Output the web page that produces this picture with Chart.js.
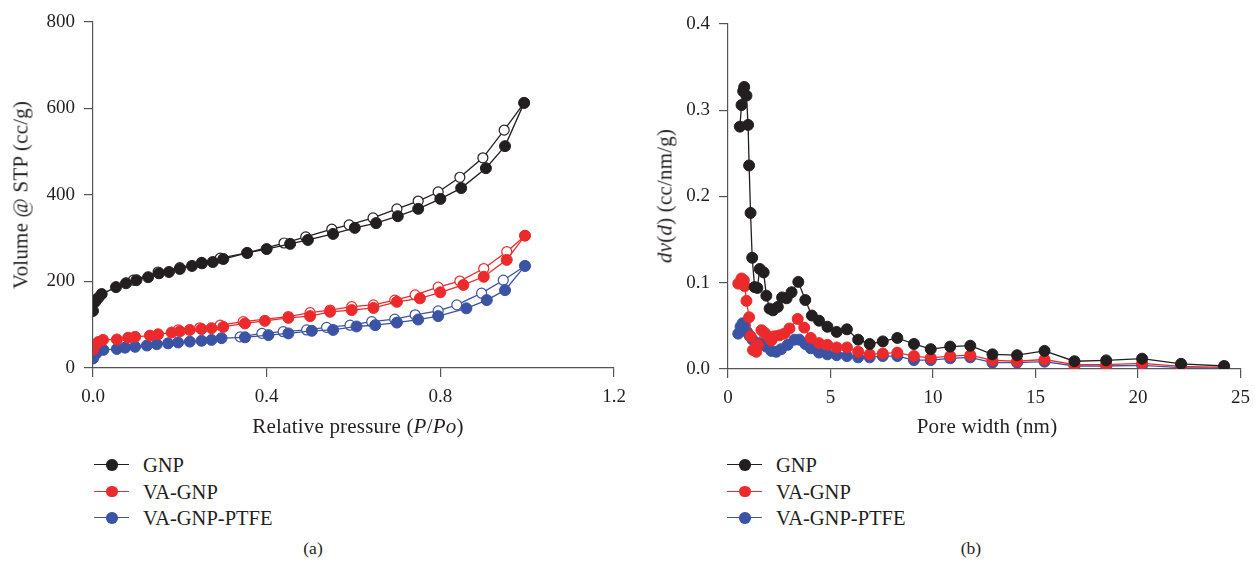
<!DOCTYPE html>
<html>
<head>
<meta charset="utf-8">
<script src="https://cdn.jsdelivr.net/npm/chart.js@4.4.1/dist/chart.umd.min.js"></script>
<style>
  html, body { margin: 0; padding: 0; background: #fff; }
  body { width: 1259px; height: 564px; position: relative; overflow: hidden;
         font-family: "Liberation Serif", "DejaVu Serif", serif; color: #231f20; }
  canvas { position: absolute; top: 0; }
  .txt { position: absolute; white-space: nowrap; font-size: 21px; line-height: 1; letter-spacing: 0.2px; }
  .ytitle { position: absolute; white-space: nowrap; font-size: 21px; line-height: 1; letter-spacing: 0.2px;
            transform: translate(-50%, -50%) rotate(-90deg); }
  .xtitle { transform: translate(-50%, -50%); }
  .cap { position: absolute; white-space: nowrap; font-size: 17.5px; line-height: 1; transform: translate(-50%, -50%); }
  .leg { position: absolute; font-size: 20.5px; line-height: 1; }
  .leg .row { position: absolute; left: 0; height: 22px; white-space: nowrap; }
  .leg .ln { position: absolute; left: 0; top: 10px; width: 35px; height: 1.4px; }
  .leg .dot { position: absolute; left: 12px; top: 5px; width: 11.5px; height: 11.5px; border-radius: 50%; }
  .leg .lab { position: absolute; left: 49px; top: 1px; }
</style>
</head>
<body>
<canvas id="c1" width="640" height="420" style="left:0;width:640px;height:420px"></canvas>
<canvas id="c2" width="619" height="420" style="left:640px;width:619px;height:420px"></canvas>

<div class="ytitle" style="left:21px;top:195px">Volume @ STP (cc/g)</div>
<div class="txt xtitle" style="left:358px;top:426px">Relative pressure (<i>P</i>/<i>Po</i>)</div>
<div class="ytitle" style="left:665px;top:196px"><i>dv</i>(<i>d</i>) (cc/nm/g)</div>
<div class="txt xtitle" style="left:987px;top:426px">Pore width (nm)</div>

<div class="leg" id="leg1" style="left:94px;top:454px"></div>
<div class="leg" id="leg2" style="left:727px;top:454px"></div>

<div class="cap" style="left:313px;top:549px">(a)</div>
<div class="cap" style="left:971px;top:549px">(b)</div>

<script>
// ---------- Data: (a) N2 isotherms ----------
const seriesNames = ["GNP", "VA-GNP", "VA-GNP-PTFE"];
const seriesColors = ["#231f20", "#ec2a2c", "#3a53a4"];

const gnpAdsP = [0.0, 0.005, 0.012, 0.02, 0.053, 0.076, 0.10, 0.127, 0.152, 0.175, 0.2, 0.228, 0.251, 0.276, 0.3, 0.355, 0.4, 0.454, 0.495, 0.553, 0.603, 0.652, 0.702, 0.749, 0.8, 0.848, 0.905, 0.949, 0.993];
const gnpAdsV = [132, 153, 162, 171, 187, 196, 203, 210, 219, 222, 229, 236, 242, 245, 252, 266, 275, 287, 296, 310, 324, 335, 351, 368, 391, 416, 462, 513, 613];
const gnpDesP = [0.993, 0.947, 0.898, 0.845, 0.795, 0.749, 0.70, 0.645, 0.59, 0.55, 0.49, 0.44, 0.355, 0.293, 0.25, 0.2, 0.15, 0.093];
const gnpDesV = [613, 550, 486, 441, 407, 386, 368, 347, 331, 321, 303, 289, 266, 254, 244, 232, 222, 203];

const vaAdsP = [0.0, 0.005, 0.012, 0.023, 0.055, 0.081, 0.097, 0.131, 0.15, 0.181, 0.2, 0.223, 0.25, 0.273, 0.3, 0.35, 0.396, 0.45, 0.5, 0.546, 0.596, 0.646, 0.7, 0.753, 0.8, 0.853, 0.9, 0.953, 0.995];
const vaAdsV = [42, 53, 60, 65, 66, 70, 72, 75, 78, 82, 85, 88, 90, 92, 95, 103, 109, 116, 120, 130, 134, 139, 153, 161, 175, 192, 211, 250, 306];
const vaDesP = [0.995, 0.953, 0.9, 0.845, 0.795, 0.742, 0.695, 0.646, 0.596, 0.546, 0.5, 0.45, 0.346, 0.293, 0.246, 0.196];
const vaDesV = [306, 269, 230, 201, 187, 169, 157, 146, 142, 134, 128, 119, 107, 99, 93, 88];

const ptfeAdsP = [0.0, 0.008, 0.024, 0.055, 0.074, 0.097, 0.124, 0.147, 0.173, 0.196, 0.223, 0.25, 0.273, 0.296, 0.35, 0.404, 0.45, 0.504, 0.553, 0.607, 0.65, 0.7, 0.749, 0.795, 0.86, 0.907, 0.949, 0.995];
const ptfeAdsV = [22, 34, 42, 44, 47, 49, 52, 55, 57, 59, 61, 63, 65, 69, 71, 76, 80, 86, 88, 96, 99, 105, 112, 120, 138, 157, 180, 236];
const ptfeDesP = [0.995, 0.945, 0.895, 0.838, 0.795, 0.742, 0.695, 0.642, 0.592, 0.538, 0.492, 0.438, 0.389, 0.339];
const ptfeDesV = [236, 203, 173, 146, 132, 123, 113, 107, 99, 94, 88, 84, 80, 72];

const xTicksA = [0.0, 0.4, 0.8, 1.2];
const yTicksA = [0, 200, 400, 600, 800];

// ---------- Data: (b) pore size distribution ----------
const gnpD = [0.58, 0.66, 0.74, 0.79, 0.9, 0.98, 1.03, 1.1, 1.18, 1.3, 1.43, 1.55, 1.74, 1.87, 2.03, 2.19, 2.43, 2.64, 2.86, 3.1, 3.43, 3.77, 4.09, 4.44, 4.85, 5.3, 5.8, 6.35, 6.91, 7.55, 8.26, 9.07, 9.89, 10.84, 11.82, 12.9, 14.1, 15.44, 16.9, 18.45, 20.2, 22.1, 24.2];
const gnpDV = [0.281, 0.306, 0.322, 0.327, 0.317, 0.283, 0.236, 0.181, 0.129, 0.095, 0.094, 0.116, 0.112, 0.085, 0.070, 0.068, 0.072, 0.083, 0.082, 0.089, 0.101, 0.080, 0.062, 0.056, 0.049, 0.043, 0.046, 0.034, 0.029, 0.032, 0.036, 0.029, 0.023, 0.026, 0.027, 0.017, 0.016, 0.021, 0.009, 0.010, 0.012, 0.006, 0.0035];

const vaD = [0.5, 0.66, 0.77, 0.82, 0.9, 1.03, 1.1, 1.22, 1.38, 1.46, 1.63, 1.79, 1.95, 2.11, 2.27, 2.51, 2.75, 3.0, 3.4, 3.72, 4.04, 4.44, 4.85, 5.3, 5.8, 6.35, 6.91, 7.55, 8.26, 9.07, 9.89, 10.84, 11.82, 12.9, 14.1, 15.44, 16.9, 18.45, 20.2, 22.1, 24.2];
const vaDV = [0.099, 0.105, 0.103, 0.096, 0.079, 0.060, 0.038, 0.022, 0.020, 0.028, 0.045, 0.042, 0.038, 0.033, 0.038, 0.039, 0.041, 0.047, 0.058, 0.048, 0.036, 0.030, 0.028, 0.025, 0.025, 0.020, 0.017, 0.018, 0.019, 0.015, 0.013, 0.015, 0.016, 0.010, 0.009, 0.011, 0.005, 0.005, 0.0066, 0.003, 0.002];

const ptfeD = [0.5, 0.61, 0.71, 0.82, 0.93, 1.06, 1.2, 1.55, 1.87, 2.11, 2.35, 2.59, 2.91, 3.24, 3.48, 3.77, 4.04, 4.44, 4.85, 5.3, 5.8, 6.35, 6.91, 7.55, 8.26, 9.07, 9.89, 10.84, 11.82, 12.9, 14.1, 15.44, 16.9, 18.45, 20.2, 22.1, 24.2];
const ptfeDV = [0.041, 0.049, 0.053, 0.051, 0.043, 0.038, 0.034, 0.030, 0.026, 0.021, 0.020, 0.023, 0.028, 0.034, 0.034, 0.029, 0.024, 0.019, 0.017, 0.016, 0.015, 0.0135, 0.0135, 0.015, 0.015, 0.0104, 0.0104, 0.0124, 0.0135, 0.0073, 0.0073, 0.0085, 0.0035, 0.0035, 0.0043, 0.0015, 0.001];

const xTicksB = [0, 5, 10, 15, 20, 25];
const yTicksB = [0.0, 0.1, 0.2, 0.3, 0.4];

// ---------- helpers ----------
const zip = (xs, ys) => xs.map((x, i) => ({ x: x, y: ys[i] }));
const FONT = { family: '"Liberation Serif", "DejaVu Serif", serif', size: 19 };
const AXIS = "#555";

function ds(label, xs, ys, color, open, order) {
  return {
    label: label,
    data: zip(xs, ys),
    showLine: true,
    borderColor: color,
    borderWidth: 1.3,
    pointRadius: open ? 5 : 5.5,
    pointBorderWidth: open ? 1.2 : 1,
    pointBackgroundColor: open ? "#ffffff" : color,
    pointBorderColor: color,
    order: order
  };
}

function scale(min, max, ticks, fmt, fix, size) {
  return {
    type: "linear", min: min, max: max,
    afterBuildTicks: (ax) => { ax.ticks = ticks.map(v => ({ value: v })); },
    afterFit: (ax) => { if (fix === "w") ax.width = size; else ax.height = size; },
    border: { display: true, color: AXIS, width: 1.2 },
    grid: { display: true, drawOnChartArea: false, drawTicks: true, tickLength: 9, color: AXIS, lineWidth: 1.2 },
    ticks: { color: "#231f20", font: FONT, padding: 9, callback: fmt, maxRotation: 0, autoSkip: false }
  };
}

const common = {
  responsive: false, animation: false, devicePixelRatio: 1,
  plugins: { legend: { display: false }, tooltip: { enabled: false }, title: { display: false } },
  elements: { line: { tension: 0 } }
};

new Chart(document.getElementById("c1"), {
  type: "scatter",
  data: { datasets: [
    ds(seriesNames[0] + " ads", gnpAdsP, gnpAdsV, seriesColors[0], false, 0),
    ds(seriesNames[1] + " ads", vaAdsP, vaAdsV, seriesColors[1], false, 1),
    ds(seriesNames[2] + " ads", ptfeAdsP, ptfeAdsV, seriesColors[2], false, 2),
    ds(seriesNames[0] + " des", gnpDesP, gnpDesV, seriesColors[0], true, 3),
    ds(seriesNames[1] + " des", vaDesP, vaDesV, seriesColors[1], true, 4),
    ds(seriesNames[2] + " des", ptfeDesP, ptfeDesV, seriesColors[2], true, 5)
  ]},
  options: Object.assign({}, common, {
    layout: { padding: { left: 0, top: 22, right: 26, bottom: 0 } },
    scales: {
      x: scale(0, 1.2, xTicksA, v => v.toFixed(1), "h", 52),
      y: scale(0, 800, yTicksA, v => String(v), "w", 93)
    }
  })
});

new Chart(document.getElementById("c2"), {
  type: "scatter",
  data: { datasets: [
    ds(seriesNames[0], gnpD, gnpDV, seriesColors[0], false, 0),
    ds(seriesNames[1], vaD, vaDV, seriesColors[1], false, 1),
    ds(seriesNames[2], ptfeD, ptfeDV, seriesColors[2], false, 2)
  ]},
  options: Object.assign({}, common, {
    layout: { padding: { left: 0, top: 24, right: 14, bottom: 0 } },
    scales: {
      x: scale(0, 25, xTicksB, v => String(v), "h", 51),
      y: scale(0, 0.4, yTicksB, v => v.toFixed(1), "w", 88)
    }
  })
});

// ---------- legends (HTML) ----------
function buildLegend(id) {
  const el = document.getElementById(id);
  seriesNames.forEach((name, i) => {
    const row = document.createElement("div");
    row.className = "row";
    row.style.top = (i * 26.5) + "px";
    row.innerHTML = '<span class="ln" style="background:' + seriesColors[i] + '"></span>' +
                    '<span class="dot" style="background:' + seriesColors[i] + '"></span>' +
                    '<span class="lab">' + name + '</span>';
    el.appendChild(row);
  });
}
buildLegend("leg1");
buildLegend("leg2");
</script>
</body>
</html>
